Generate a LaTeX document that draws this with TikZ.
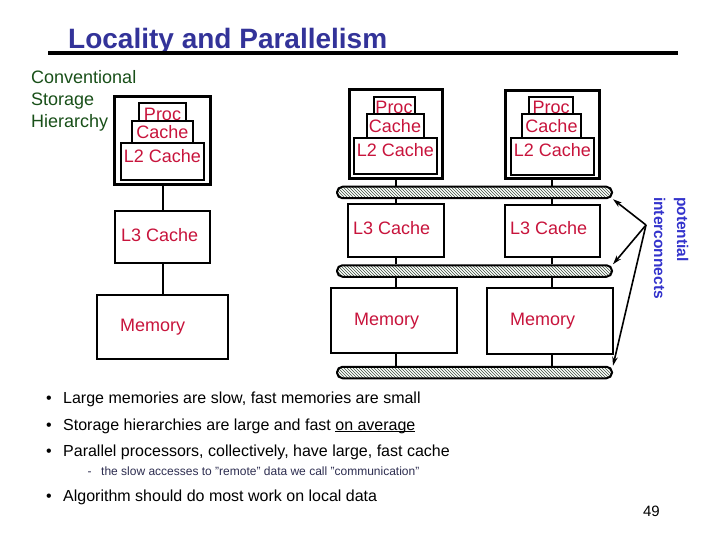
\documentclass[tikz,border=0pt]{standalone}
\usepackage{fontspec}
\setmainfont{Liberation Sans}
\usetikzlibrary{patterns,arrows.meta,calc}
\definecolor{titleblue}{RGB}{51,51,153}
\definecolor{lblred}{RGB}{200,20,60}
\definecolor{hgreen}{RGB}{25,80,25}
\definecolor{piblue}{RGB}{51,51,204}
\definecolor{hatchc}{RGB}{60,80,60}
\definecolor{subgrey}{RGB}{45,45,80}
\newcommand\ulbox[1]{\setbox0\hbox{#1}\rlap{\rule[-2.4pt]{\wd0}{1.2pt}}\box0}
\begin{document}
\begin{tikzpicture}[x=1pt,y=-1pt,
  outerbox/.style={draw, line width=3pt, fill=white, inner sep=0},
  box/.style={draw, line width=2pt, fill=white, inner sep=0},
  lbl/.style={text=lblred, font=\fontsize{18}{21}\selectfont, inner sep=0},
  bus/.style={draw, line width=2pt, rounded corners=5.5pt, preaction={fill=white},
    pattern=north west lines, pattern color=hatchc, inner sep=0,
    minimum width=275, minimum height=11.5},
  conn/.style={line width=2pt},
  arr/.style={line width=1.6pt, -{Stealth[length=9pt,width=5.5pt]}},
  bul/.style={font=\fontsize{16}{19}\selectfont, inner sep=0},
  subb/.style={font=\fontsize{12}{14}\selectfont, text=subgrey, inner sep=0}]
\useasboundingbox (0,0) rectangle (720,540);
\fill[white] (0,0) rectangle (720,540);

% title
\node[anchor=base west, inner sep=0, text=titleblue, font=\fontsize{28}{32}\bfseries] (title) at (68,49) {Locality and Parallelism};
\draw[line width=3.5pt] (48,53) -- (678,53);

% side label (base = baseline of last line)
\node[anchor=base west, inner sep=0, text=hgreen, font=\fontsize{18}{22}\selectfont, align=left] (conv) at (31,128) {Conventional\\Storage\\Hierarchy};

% ---- left column
\node[outerbox, minimum width=96, minimum height=88] (c1) at (162.5,141) {};
\node[lbl, anchor=base] (p1t) at (162.5,121) {Proc};
\node[box, minimum width=47, minimum height=18, fill=none] (p1) at (162.5,112) {};
\node[box, minimum width=61, minimum height=22] (k1) at (162.5,132) {};
\node[lbl, anchor=base] at (162.5,139) {Cache};
\node[box, minimum width=83, minimum height=37] (l21) at (162.5,161.5) {};
\node[lbl, anchor=base] at (162.5,163) {L2 Cache};
\node[box, minimum width=95, minimum height=52] (l31) at (162.5,237) {};
\node[lbl, anchor=base west] at (121,241) {L3 Cache};
\node[box, minimum width=131, minimum height=64] (m1) at (162.5,327) {};
\node[lbl, anchor=base west] at (120,331) {Memory};
\draw[conn] (c1.south) -- (l31.north);
\draw[conn] (l31.south) -- (m1.north);

% ---- buses
\node[bus] (bus1) at (474.5,192.5) {};
\node[bus] (bus2) at (474.5,271) {};
\node[bus] (bus3) at (474.5,372.5) {};

% ---- middle column
\node[outerbox, minimum width=93, minimum height=89] (c2) at (395.5,134.5) {};
\node[lbl, anchor=base] at (394,114) {Proc};
\node[box, minimum width=41, minimum height=17, fill=none] (p2) at (394,105.5) {};
\node[box, minimum width=57, minimum height=24] (k2) at (395,126) {};
\node[lbl, anchor=base] at (395,133) {Cache};
\node[box, minimum width=83, minimum height=36] (l22) at (395.5,156) {};
\node[lbl, anchor=base] at (395.5,157) {L2 Cache};
\node[box, minimum width=96, minimum height=53] (l32) at (396,230.5) {};
\node[lbl, anchor=base west] at (353,235) {L3 Cache};
\node[box, minimum width=126, minimum height=65] (m2) at (394,320.5) {};
\node[lbl, anchor=base west] at (354,325) {Memory};

% ---- right column
\node[outerbox, minimum width=94, minimum height=88] (c3) at (552,135) {};
\node[lbl, anchor=base] at (551,114) {Proc};
\node[box, minimum width=44, minimum height=17, fill=none] (p3) at (551,105.5) {};
\node[box, minimum width=59, minimum height=24] (k3) at (551.5,126) {};
\node[lbl, anchor=base] at (551.5,133) {Cache};
\node[box, minimum width=83, minimum height=37] (l23) at (552.5,156.5) {};
\node[lbl, anchor=base] at (552.5,157) {L2 Cache};
\node[box, minimum width=95, minimum height=52] (l33) at (552.5,231) {};
\node[lbl, anchor=base west] at (510,235) {L3 Cache};
\node[box, minimum width=126, minimum height=66] (m3) at (550,321) {};
\node[lbl, anchor=base west] at (510,325) {Memory};

% connectors middle / right
\draw[conn] (c2.south) -- (c2.south |- bus1.north);
\draw[conn] (bus1.south -| c2.south) -- (c2.south |- l32.north);
\draw[conn] (c2.south |- l32.south) -- (c2.south |- bus2.north);
\draw[conn] (bus2.south -| c2.south) -- (c2.south |- m2.north);
\draw[conn] (c2.south |- m2.south) -- (c2.south |- bus3.north);
\draw[conn] (c3.south) -- (c3.south |- bus1.north);
\draw[conn] (bus1.south -| c3.south) -- (c3.south |- l33.north);
\draw[conn] (c3.south |- l33.south) -- (c3.south |- bus2.north);
\draw[conn] (bus2.south -| c3.south) -- (c3.south |- m3.north);
\draw[conn] (c3.south |- m3.south) -- (c3.south |- bus3.north);

% potential interconnects
\coordinate (src) at (646,225);
\draw[arr] (src) -- (bus1.south east);
\draw[arr] (src) -- (bus2.north east);
\draw[arr] (src) -- (bus3.north east);
\node[rotate=-90, anchor=north west, inner sep=0, align=left, text=piblue,
  font=\fontsize{15.5}{23}\bfseries] (pi) at (688.5,197) {potential\\interconnects};

% bullets
\node[bul, anchor=base west] (b1) at (46,403) {\makebox[17pt][l]{•}Large memories are slow, fast memories are small};
\node[bul, anchor=base west] (b2) at (46,430) {\makebox[17pt][l]{•}Storage hierarchies are large and fast \ulbox{on average}};
\node[bul, anchor=base west] (b3) at (46,456) {\makebox[17pt][l]{•}Parallel processors, collectively, have large, fast cache};
\node[subb, anchor=base west] (s1) at (87.5,475) {\makebox[13.5pt][l]{-}the slow accesses to "remote" data we call "communication"};
\node[bul, anchor=base west] (b4) at (46,501) {\makebox[17pt][l]{•}Algorithm should do most work on local data};

\node[anchor=base east, inner sep=0, font=\fontsize{15}{18}\selectfont] (pg) at (660,516) {49};
\end{tikzpicture}
\end{document}
